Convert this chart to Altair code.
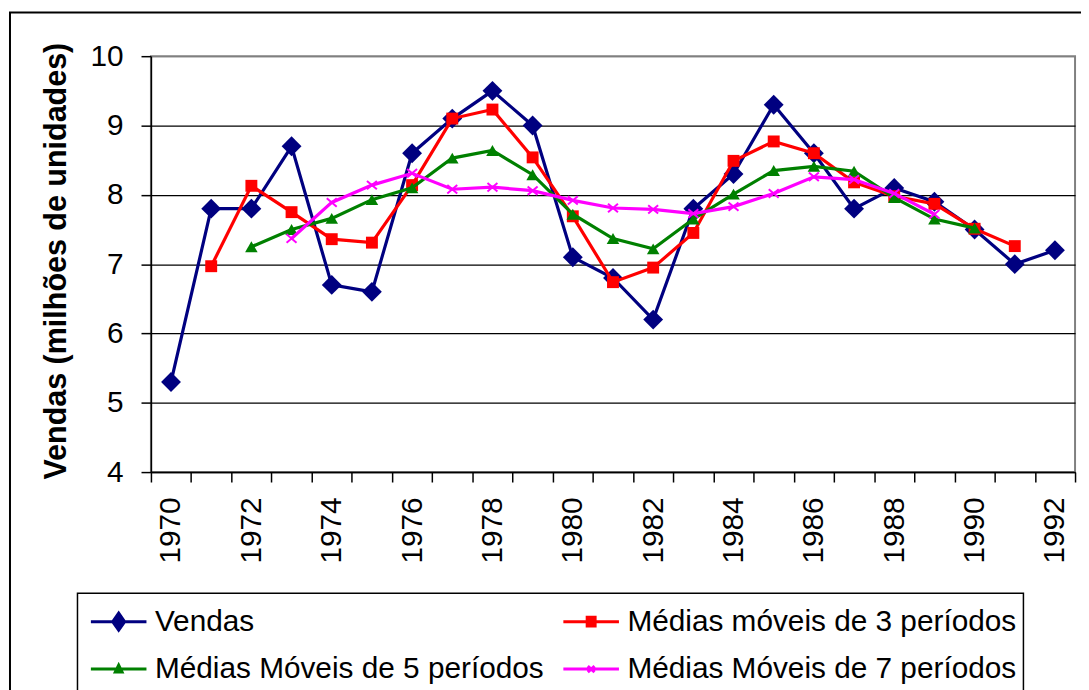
import altair as alt
import pandas as pd

# ---------------- data ----------------
years = list(range(1970, 1993))
vendas = [5.3, 7.8, 7.8, 8.7, 6.7, 6.6, 8.6, 9.1, 9.5, 9.0, 7.1, 6.8,
          6.2, 7.8, 8.3, 9.3, 8.6, 7.8, 8.1, 7.9, 7.5, 7.0, 7.2]

mm3_years = list(range(1971, 1992))
mm3 = [6.97, 8.13, 7.75, 7.36, 7.31, 8.14, 9.10, 9.23, 8.54, 7.69, 6.74,
       6.95, 7.45, 8.49, 8.77, 8.60, 8.18, 7.98, 7.87, 7.51, 7.26]

mm5_years = list(range(1972, 1991))
mm5 = [7.25, 7.50, 7.66, 7.93, 8.10, 8.53, 8.64, 8.29, 7.72, 7.37, 7.22,
       7.65, 8.01, 8.35, 8.41, 8.34, 7.96, 7.65, 7.52]

mm7_years = list(range(1973, 1990))
mm7 = [7.37, 7.89, 8.14, 8.31, 8.08, 8.11, 8.06, 7.92, 7.81, 7.79, 7.73,
       7.83, 8.02, 8.26, 8.22, 8.02, 7.72]

series_names = ["Vendas", "Médias móveis de 3 períodos",
                "Médias Móveis de 5 períodos", "Médias Móveis de 7 períodos"]
y_ticks = [4, 5, 6, 7, 8, 9, 10]

# ---------------- styles ----------------
colors = ["#000080", "#FF0000", "#008000", "#FF00FF"]
FONT = "Liberation Sans"

marker_styles = [
    dict(shape="diamond", size=400, filled=True),
    dict(shape="square", size=144, filled=True),
    dict(shape="triangle-up", size=160, filled=True),
    dict(shape="M-1,-0.85L1,0.85M-1,0.85L1,-0.85", size=100, filled=False, strokeWidth=2),
]

legend_paths = [
    "M-1.4,0L1.4,0M0,-0.43L0.3,0L0,0.43L-0.3,0Z",
    "M-1.4,0L1.4,0M-0.2,-0.22L0.2,-0.22L0.2,0.22L-0.2,0.22Z",
    "M-1.4,0L1.4,0M0,-0.2L0.17,0.15L-0.17,0.15Z",
    "M-1.4,0L1.4,0M-0.17,-0.15L0.17,0.15M-0.17,0.15L0.17,-0.15",
]

frames = []
for name, ys, vs in zip(series_names, [years, mm3_years, mm5_years, mm7_years],
                        [vendas, mm3, mm5, mm7]):
    frames.append(pd.DataFrame({"ano": ys, "valor": vs, "serie": name}))
df = pd.concat(frames, ignore_index=True)

x_scale = alt.Scale(type="band", domain=years, paddingInner=0, paddingOuter=0)
y_scale = alt.Scale(domain=[4, 10], nice=False, zero=False)

x_axis = alt.Axis(
    title=None, tickBand="extent", labelAngle=270, labelOverlap=False,
    labelExpr="datum.value % 2 == 0 ? datum.label : ''",
    labelFont=FONT, labelFontSize=30, labelColor="black", labelPadding=15,
    tickSize=10, tickColor="black", tickWidth=1.5,
    domainColor="black", domainWidth=1.5, grid=False,
)
y_axis = alt.Axis(
    values=y_ticks, format="d", labelFont=FONT, labelFontSize=30,
    labelColor="black", labelPadding=18,
    tickSize=10, tickColor="black", tickWidth=1.5,
    domainColor="black", domainWidth=1.5,
    grid=True, gridWidth=1.2,
    gridColor={"condition": {"test": "datum.value == 10", "value": "#808080"}, "value": "black"},
    title="Vendas  (milhões de unidades)", titleFont=FONT, titleFontSize=30.7,
    titleFontWeight="bold", titleColor="black", titleAngle=270,
    titleAlign="center", titleBaseline="alphabetic", titleX=-86, titleY=206,
)

x_enc = alt.X("ano:O", scale=x_scale, axis=x_axis, bandPosition=0.5)
y_enc = alt.Y("valor:Q", scale=y_scale, axis=y_axis)

# outer frame of the chart object
frame = alt.Chart(pd.DataFrame({"k": [0]})).mark_rect(
    fill="transparent", stroke="black", strokeWidth=2
).encode(x=alt.value(-142), x2=alt.value(3000), y=alt.value(-44), y2=alt.value(3000))

legend_def = alt.Legend(
    title=None, orient="none", legendX=-74, legendY=541, columns=2,
    direction="horizontal",
    columnPadding=13, rowPadding=11, padding=7,
    strokeColor="black", symbolSize=1600, symbolStrokeWidth=3,
    symbolOffset=13, labelOffset=15, labelFont=FONT, labelFontSize=30,
    labelColor="black", labelLimit=1000, symbolOpacity=1,
)

legend_layer = alt.Chart(df).transform_filter("datum.valor < 0").mark_point(
    filled=True, strokeWidth=3, opacity=1
).encode(
    x=x_enc, y=y_enc,
    fill=alt.Fill("serie:N", scale=alt.Scale(domain=series_names, range=colors), legend=legend_def),
    stroke=alt.Stroke("serie:N", scale=alt.Scale(domain=series_names, range=colors), legend=legend_def),
    shape=alt.Shape("serie:N", scale=alt.Scale(domain=series_names, range=legend_paths), legend=legend_def),
)

layers = [frame, legend_layer]
for fr, col, ms in zip(frames, colors, marker_styles):
    line = alt.Chart(fr).mark_line(color=col, strokeWidth=3.2).encode(x=x_enc, y=y_enc)
    if ms["filled"]:
        pts = alt.Chart(fr).mark_point(shape=ms["shape"], size=ms["size"], filled=True,
                                       fill=col, opacity=1, strokeWidth=0).encode(x=x_enc, y=y_enc)
    else:
        pts = alt.Chart(fr).mark_point(shape=ms["shape"], size=ms["size"], filled=False,
                                       stroke=col, opacity=1,
                                       strokeWidth=ms["strokeWidth"]).encode(x=x_enc, y=y_enc)
    layers += [line, pts]

chart = alt.layer(*layers).properties(
    width=931, height=419,
    padding={"left": 144, "top": 46, "right": 6, "bottom": 217},
    autosize=alt.AutoSizeParams(type="none"),
    background="white",
).configure_view(
    stroke="#808080", strokeWidth=2
).configure_legend(
    strokeWidth=1.5
)

chart.save("out.html", embed_options={"renderer": "svg", "actions": False})
